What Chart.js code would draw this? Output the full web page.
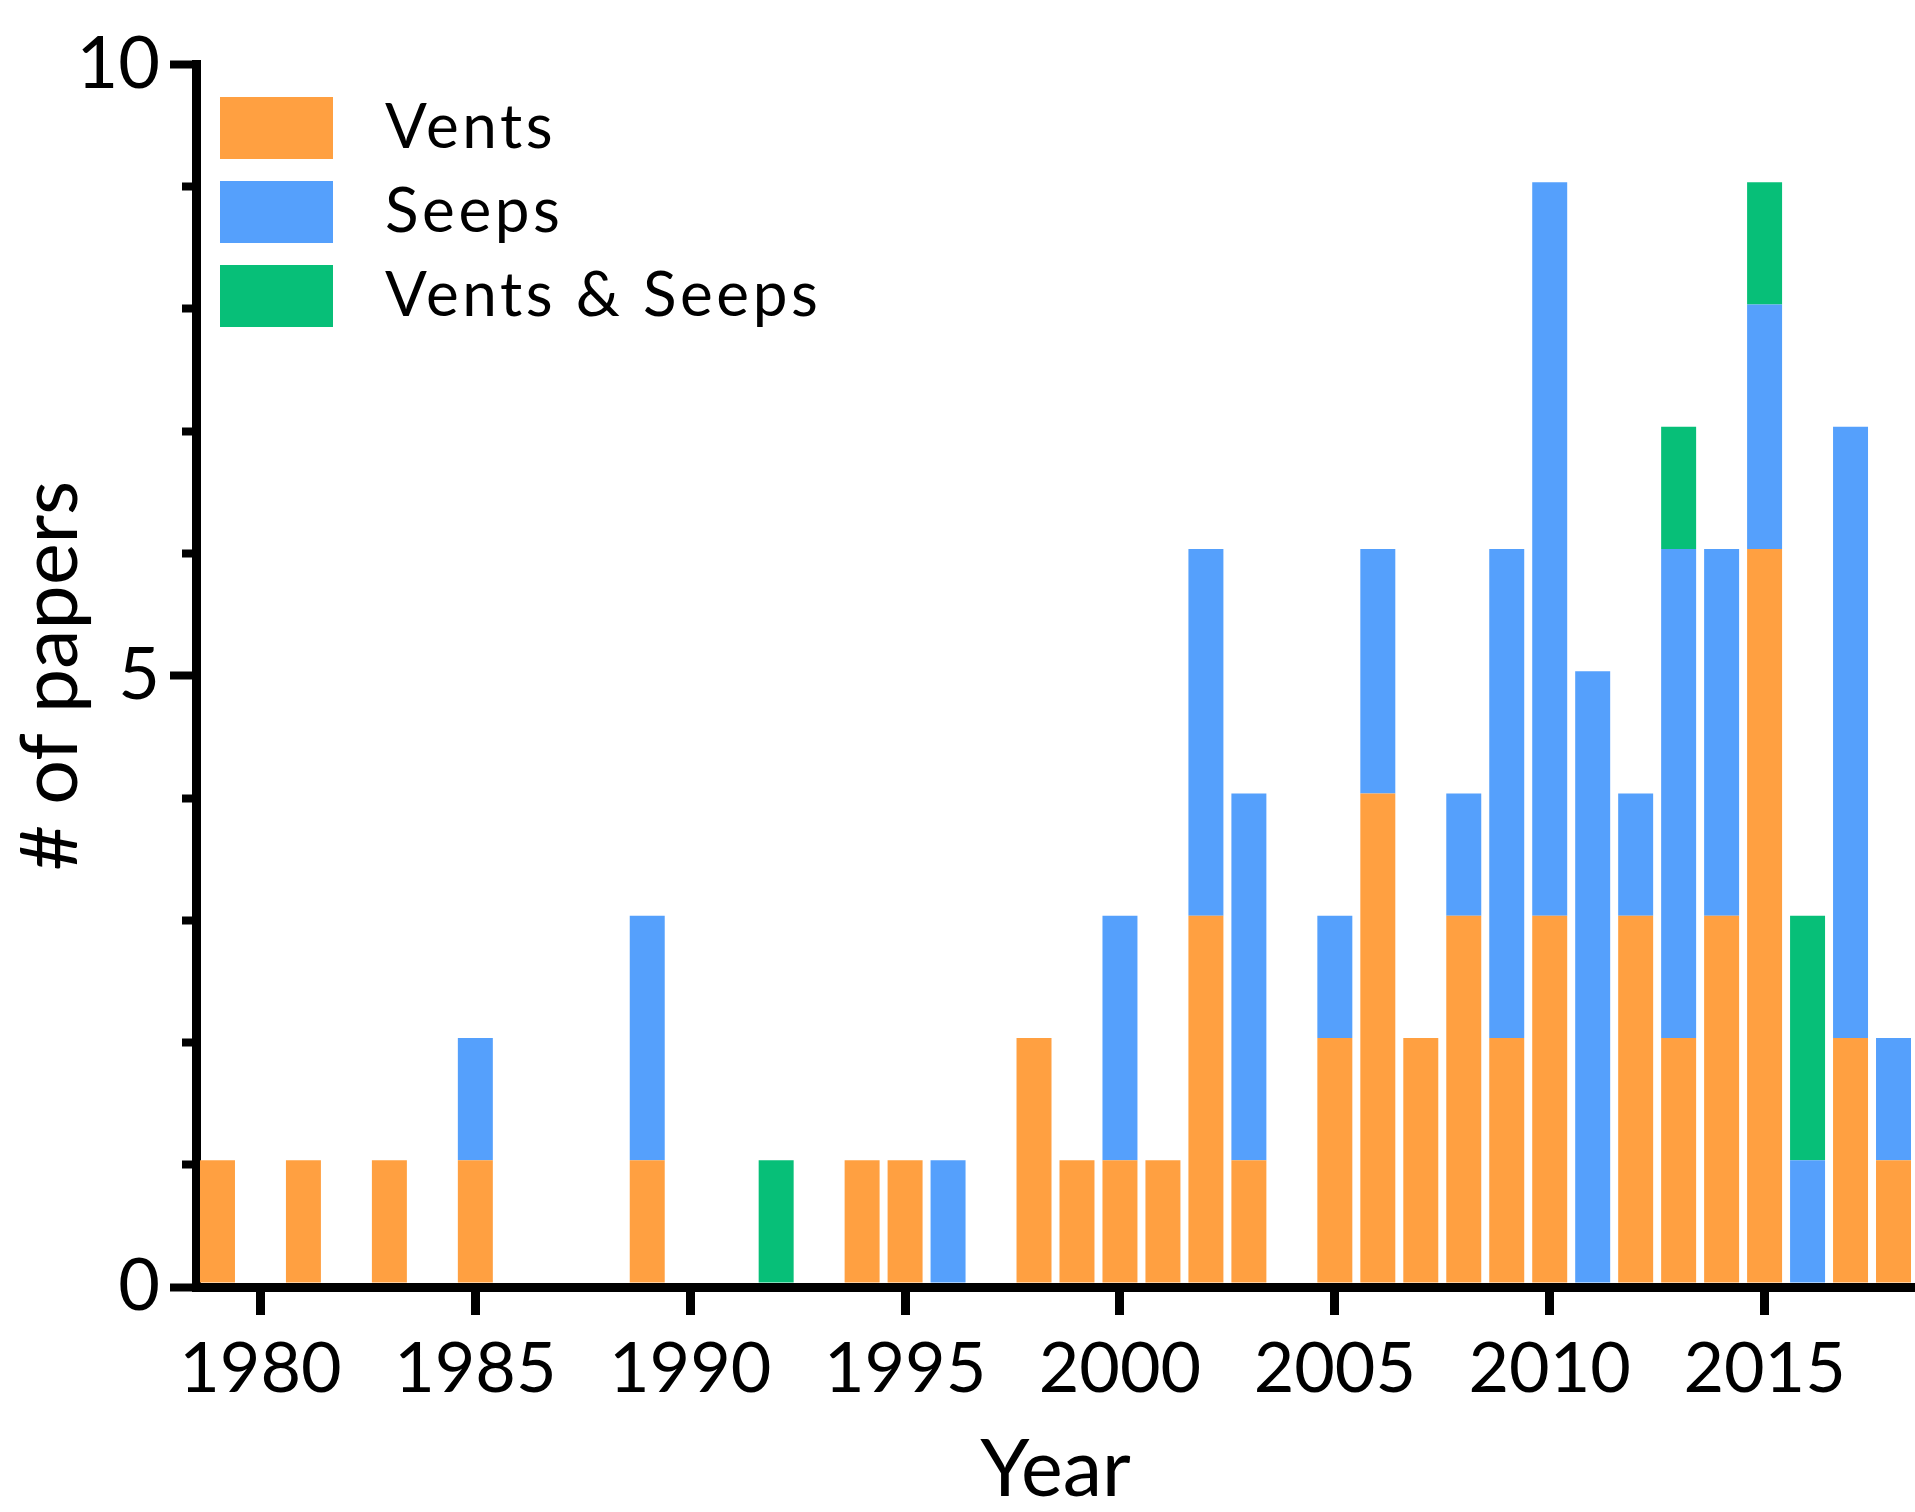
<!DOCTYPE html>
<html>
<head>
<meta charset="utf-8">
<script src="https://cdn.jsdelivr.net/npm/chart.js@4.4.1/dist/chart.umd.min.js"></script>
<style>
  html, body { margin: 0; padding: 0; background: #fff; }
  #wrap { position: relative; width: 1915px; height: 1512px; overflow: hidden; }
  #legend { position: absolute; left: 220px; top: 97px; font-family: Lato, sans-serif; font-size: 62px; letter-spacing: 3.6px; color: #000; }
  .item { display: flex; align-items: center; height: 62px; margin-bottom: 22px; }
  .box { width: 113px; height: 62px; margin-right: 52px; flex: none; }
  .txt { line-height: 62px; white-space: nowrap; position: relative; top: -4px; }
</style>
</head>
<body>
<div id="wrap">
  <canvas id="c" width="1915" height="1512"></canvas>
  <div id="legend"></div>
</div>
<script>
// Categories: publication years
const years = ['1979','1980','1981','1982','1983','1984','1985','1986','1987','1988',
               '1989','1990','1991','1992','1993','1994','1995','1996','1997','1998',
               '1999','2000','2001','2002','2003','2004','2005','2006','2007','2008',
               '2009','2010','2011','2012','2013','2014','2015','2016','2017','2018'];

// Series values (# of papers)
const vents = [1,0,1,0,1,0,1,0,0,0,
               1,0,0,0,0,1,1,0,0,2,
               1,1,1,3,1,0,2,4,2,3,
               2,3,0,3,2,3,6,0,2,1];
const seeps = [0,0,0,0,0,0,1,0,0,0,
               2,0,0,0,0,0,0,1,0,0,
               0,2,0,3,3,0,1,2,0,1,
               4,6,5,1,4,3,2,1,5,1];
const ventsAndSeeps = [0,0,0,0,0,0,0,0,0,0,
                       0,0,0,1,0,0,0,0,0,0,
                       0,0,0,0,0,0,0,0,0,0,
                       0,0,0,0,1,0,1,2,0,0];

// Tick labels
const yTickLabels = [0, 5, 10];
const xTickEvery = 5;

const seriesNames = ['Vents', 'Seeps', 'Vents & Seeps'];
const seriesColors = ['#FFA041', '#55A0FC', '#07BF78'];

// bars sit on top of the thick x-axis line (as in the original plot)
const AXIS_W = 9;
const PX_PER_UNIT = 122.25;
const barLift = (AXIS_W / 2) / PX_PER_UNIT;

function build() {
  Chart.defaults.font.family = 'Lato';
  Chart.defaults.color = '#000';

  const ctx = document.getElementById('c').getContext('2d');
  const chart = new Chart(ctx, {
    type: 'bar',
    data: {
      labels: years,
      datasets: [
        { label: seriesNames[0], data: vents, backgroundColor: seriesColors[0], yAxisID: 'yBars' },
        { label: seriesNames[1], data: seeps, backgroundColor: seriesColors[1], yAxisID: 'yBars' },
        { label: seriesNames[2], data: ventsAndSeeps, backgroundColor: seriesColors[2], yAxisID: 'yBars' }
      ]
    },
    options: {
      responsive: false,
      animation: false,
      layout: { padding: { top: 64.5, left: 0, right: -3, bottom: 0 } },
      datasets: { bar: { barPercentage: 0.814, categoryPercentage: 1 } },
      plugins: { legend: { display: false }, tooltip: { enabled: false } },
      scales: {
        x: {
          stacked: true,
          offset: true,
          z: 1,
          grid: {
            display: true, offset: false, drawOnChartArea: false, drawTicks: true,
            tickLength: 28, tickWidth: 9,
            tickColor: c => (parseInt(years[c.index], 10) % xTickEvery === 0) ? '#000' : 'rgba(0,0,0,0)'
          },
          border: { display: true, color: '#000', width: AXIS_W },
          ticks: {
            autoSkip: false, maxRotation: 0, minRotation: 0, padding: 12,
            color: '#000', font: { size: 70 },
            callback: (v, i) => (parseInt(years[i], 10) % xTickEvery === 0) ? years[i] : ''
          },
          title: { display: true, text: 'Year', color: '#000', font: { size: 79, lineHeight: 1 }, padding: { top: 0, bottom: 2 } },
          afterFit: s => { s.height = 225; }
        },
        y: {
          position: 'left',
          min: 0, max: 10,
          z: 1,
          grid: {
            display: true, drawOnChartArea: false, drawTicks: true,
            tickLength: 26, tickWidth: 8, tickColor: '#000',
            tickBorderDash: c => (c.tick && yTickLabels.includes(c.tick.value)) ? [] : [0, 12, 20, 100]
          },
          border: { display: true, color: '#000', width: AXIS_W },
          ticks: {
            stepSize: 1, padding: 10, color: '#000', font: { size: 72 },
            callback: v => yTickLabels.includes(v) ? String(v) : ''
          },
          title: { display: true, text: '# of papers', color: '#000', font: { size: 79, lineHeight: 1 }, padding: { top: 12, bottom: 0 } },
          afterFit: s => { s.width = 196; }
        },
        yBars: {
          stacked: true,
          display: false,
          min: 0 - barLift,
          max: 10 - barLift
        }
      }
    }
  });

  // HTML legend built from the chart's own legend items
  const items = chart.options.plugins.legend.labels.generateLabels(chart);
  const leg = document.getElementById('legend');
  items.forEach(it => {
    const row = document.createElement('div');
    row.className = 'item';
    const b = document.createElement('div');
    b.className = 'box';
    b.style.background = it.fillStyle;
    const t = document.createElement('span');
    t.className = 'txt';
    t.textContent = it.text;
    row.appendChild(b); row.appendChild(t);
    leg.appendChild(row);
  });
}

if (document.fonts && document.fonts.load) {
  document.fonts.load('73px Lato').then(build, build);
} else {
  build();
}
</script>
</body>
</html>
